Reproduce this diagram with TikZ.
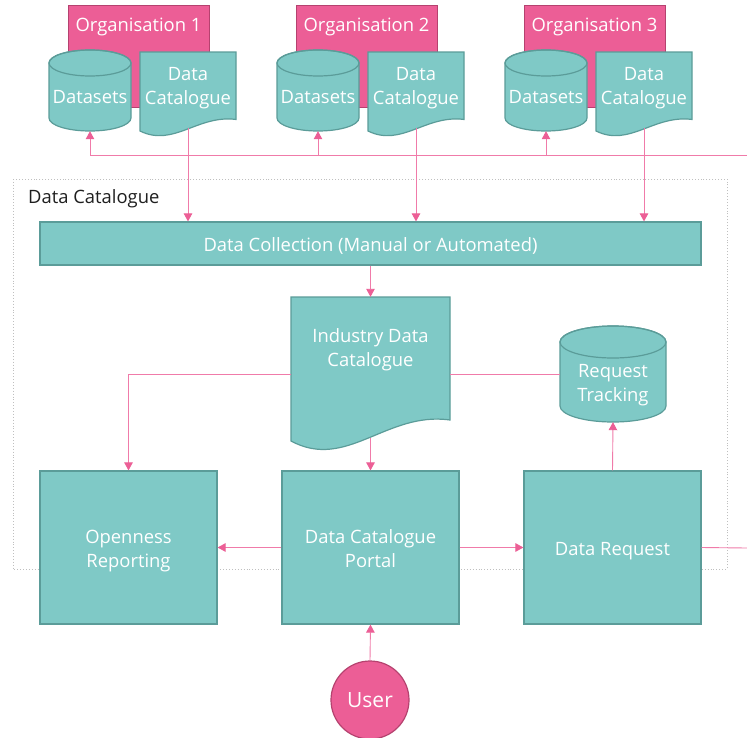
\documentclass[tikz,border=0pt]{standalone}
\usepackage{fontspec}
\setmainfont{Open Sans}
\usetikzlibrary{arrows.meta}
\definecolor{tealfill}{HTML}{7FC9C6}
\definecolor{tealedge}{HTML}{5B9C99}
\definecolor{pinkfill}{HTML}{EC5E96}
\definecolor{pinkedge}{HTML}{B5426F}
\definecolor{connc}{HTML}{F07BA9}
\definecolor{tipc}{HTML}{EC5F96}
\definecolor{dotc}{HTML}{BFBFBF}
\newcommand\fs{\fontsize{18.4}{24}\selectfont}
% cx rx ytop ybot ry
\newcommand\cylshape[5]{%
  \pgfmathsetmacro\cxa{(#1)-(#2)}\pgfmathsetmacro\cxb{(#1)+(#2)}%
  \pgfmathsetmacro\cyt{(#3)+(#5)}\pgfmathsetmacro\cyb{(#4)-(#5)}%
  \pgfmathsetmacro\ccx{#1}%
  \path[shapefill] (\cxa,\cyt) -- (\cxa,\cyb)
    arc[start angle=180,end angle=0,x radius=#2,y radius=#5]
    -- (\cxb,\cyt)
    arc[start angle=0,end angle=-180,x radius=#2,y radius=#5] -- cycle;
  \draw[draw=tealedge,line width=1.2pt] (\ccx,\cyt) ellipse[x radius=#2,y radius=#5];}
% x1 x2 ytop yl s
\newcommand\docshape[5]{%
  \pgfmathsetmacro\dxa{#1}\pgfmathsetmacro\dxb{#2}%
  \pgfmathsetmacro\dyr{(#4)-21*(#5)}%
  \pgfmathsetmacro\dpa{\dxa+0.6*(\dxb-\dxa)}\pgfmathsetmacro\dpb{\dxa+0.35*(\dxb-\dxa)}%
  \pgfmathsetmacro\dya{(#4)-30*(#5)}\pgfmathsetmacro\dyb{(#4)+30*(#5)}%
  \path[shapefill] (\dxa,#3) -- (\dxb,#3) -- (\dxb,\dyr)
    .. controls (\dpa,\dya) and (\dpb,\dyb) .. (\dxa,#4) -- cycle;}
\begin{document}
\begin{tikzpicture}[x=1pt,y=-1pt,
  shapefill/.style={fill=tealfill, draw=tealedge, line width=1.2pt},
  txt/.style={font=\fs, text height=19pt, text depth=4pt},
  two/.style={text height=43pt, text depth=4pt},
  box/.style={shapefill, rectangle, inner sep=0pt, text=white, txt, align=center},
  ghost/.style={inner sep=0pt, rectangle},
  lbl/.style={text=white, txt, align=center, inner sep=0pt},
  orgbox/.style={fill=pinkfill, draw=pinkedge, line width=1.2pt, inner sep=0pt, rectangle, anchor=north west},
  orglbl/.style={text=white, txt, inner sep=0pt},
  conn/.style={draw=connc, line width=0.9pt},
  arr/.style={conn, -{Triangle[length=8pt,width=8.5pt,color=tipc]}},
]
\useasboundingbox (0,0) rectangle (747,737);
\fill[white] (0,0) rectangle (747,737);

% organisations
\foreach \i/\dx in {1/0,2/228,3/456}{
  \node[orgbox, minimum width=141pt, minimum height=102pt] (org\i) at ({68+\dx},5) {};
  \node[orglbl] (orgl\i) at ({138.5+\dx},23.5) {Organisation \i};
  \cylshape{90+\dx}{41}{50}{131}{13}
  \node[ghost, minimum width=82pt, minimum height=81pt,
        label={[lbl,yshift=-5.2pt]center:Datasets}] (ds\i) at ({90+\dx},90.5) {};
  \docshape{140+\dx}{236+\dx}{52}{131}{0.55}
  \node[ghost, minimum width=96pt, minimum height=76pt,
        label={[lbl,two,yshift=4.7pt]center:Data\\Catalogue}] (dc\i) at ({188+\dx},90) {};
}

% container
\draw[dotc, dotted, line width=0.9pt] (13,179) rectangle (727,569);
\node[anchor=west, inner sep=0pt, txt, text=black!88] (dclabel) at (28,195.5) {Data Catalogue};

% data collection
\node[box, minimum width=661pt, minimum height=43pt] (coll) at (370.5,243.5) {Data Collection (Manual or Automated)};

% industry data catalogue
\docshape{291}{450}{297}{441}{1}
\node[ghost, minimum width=159pt, minimum height=141pt,
      label={[lbl,two,yshift=21pt]center:Industry Data\\Catalogue}] (ind) at (370.5,367.5) {};

% request tracking
\cylshape{613}{53}{326}{422}{16}
\node[ghost, minimum width=106pt, minimum height=96pt,
      label={[lbl,two,yshift=-7.5pt]center:Request\\Tracking}] (rt) at (613,374) {};

% bottom boxes
\node[box, two, minimum width=177pt, minimum height=153pt] (open) at (128.5,547.5) {Openness\\Reporting};
\node[box, two, minimum width=177pt, minimum height=153pt] (portal) at (370.5,547.5) {Data Catalogue\\Portal};
\node[box, minimum width=177pt, minimum height=153pt] (req) at (612.5,547.5) {Data Request};

% user
\node[circle, fill=pinkfill, draw=pinkedge, line width=1.2pt, minimum size=78pt, inner sep=0pt, text=white, font=\fontsize{21}{24}\selectfont] (user) at (370,700) {User};

% connectors
\coordinate (busR) at (747,155);
\coordinate (outR) at (747,548);
\draw[arr] (busR) -| (ds1.south);
\draw[arr] (ds2.south |- busR) -- (ds2.south);
\draw[arr] (ds3.south |- busR) -- (ds3.south);
\foreach \i in {1,2,3}{
  \draw[arr] (dc\i.south) -- (dc\i.south |- coll.north);
}
\draw[arr] (coll.south) -- (ind.north);
\draw[conn] (rt.west) -- (rt.west -| ind.east);
\draw[arr] (rt.west -| ind.west) -| (open.north);
\draw[arr] (ind.south) -- (portal.north);
\draw[arr] (portal.west) -- (open.east);
\draw[arr] (portal.east) -- (req.west);
\draw[arr] (req.north) -- (rt.south);
\draw[conn] (req.east) -- (outR);
\draw[arr] (user.north) -- (portal.south);
\end{tikzpicture}
\end{document}
